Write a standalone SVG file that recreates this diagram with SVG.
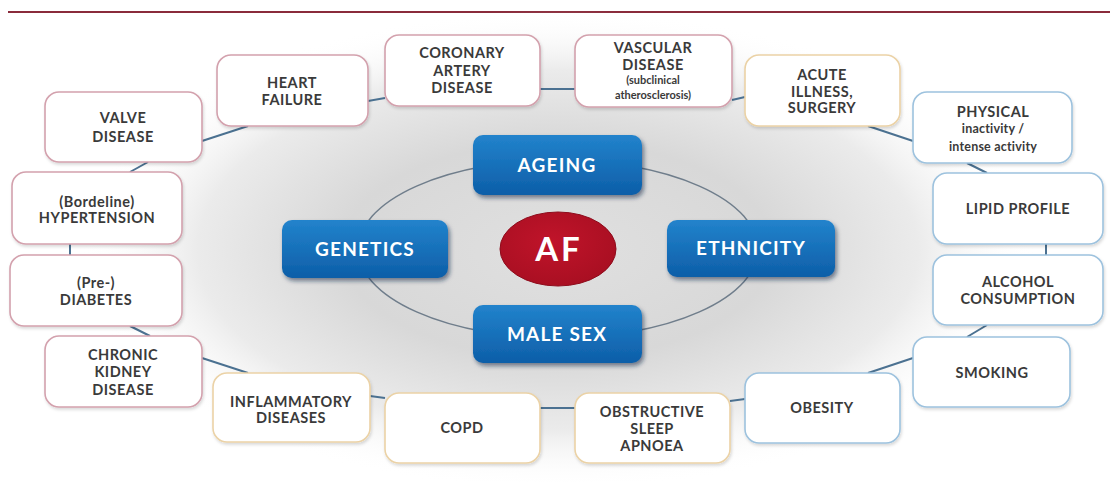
<svg xmlns="http://www.w3.org/2000/svg" width="1110" height="482" viewBox="0 0 1110 482">
<defs>
  <radialGradient id="bg" cx="0.5" cy="0.5" r="0.5">
    <stop offset="0" stop-color="#e0e0e0"/>
    <stop offset="0.45" stop-color="#d8d8d8"/>
    <stop offset="0.75" stop-color="#ebebeb"/>
    <stop offset="1" stop-color="#ffffff" stop-opacity="0"/>
  </radialGradient>
  <linearGradient id="blue" x1="0" y1="0" x2="0" y2="1">
    <stop offset="0" stop-color="#2283cc"/>
    <stop offset="1" stop-color="#0d5ea8"/>
  </linearGradient>
  <radialGradient id="red" cx="0.45" cy="0.4" r="0.6">
    <stop offset="0" stop-color="#c0142a"/>
    <stop offset="1" stop-color="#a90f22"/>
  </radialGradient>
  <filter id="sh" x="-10%" y="-10%" width="125%" height="130%">
    <feDropShadow dx="1" dy="2" stdDeviation="1.5" flood-color="#000" flood-opacity="0.15"/>
  </filter>
  <filter id="bsh" x="-10%" y="-15%" width="125%" height="140%">
    <feDropShadow dx="2" dy="3" stdDeviation="2" flood-color="#0a2a4a" flood-opacity="0.55"/>
  </filter>
</defs>
<style>
  .box { fill: #ffffff; stroke-width: 1.6; filter: url(#sh); }
  .pink { stroke: #d3a1ad; }
  .orange { stroke: #ebd2a6; }
  .bl { stroke: #9dc2de; }
  .t { font-family: Lato, "Open Sans", sans-serif; font-weight: 700; font-size: 14.5px; letter-spacing: 0.5px; fill: #3a3a3a; text-anchor: middle; }
  .s { font-size: 11px; letter-spacing: 0; }
  .m { font-size: 12.5px; letter-spacing: 0.2px; }
  .core { fill: url(#blue); filter: url(#bsh); }
  .ct { font-family: Lato, "Open Sans", sans-serif; font-weight: 700; font-size: 19px; letter-spacing: 1.2px; fill: #ffffff; text-anchor: middle; }
  .ln { stroke: #4b7191; stroke-width: 2; fill: none; }
</style>
<rect x="0" y="0" width="1110" height="482" fill="#ffffff"/>
<line x1="8" y1="12" x2="1110" y2="12" stroke="#8a2b3b" stroke-width="2"/>
<ellipse cx="558" cy="250" rx="480" ry="240" fill="url(#bg)"/>

<g id="connectors">
  <line class="ln" x1="202" y1="141" x2="248" y2="126"/>
  <line class="ln" x1="148" y1="162" x2="130" y2="172"/>
  <line class="ln" x1="70" y1="244" x2="70" y2="255"/>
  <line class="ln" x1="130" y1="326" x2="150" y2="336"/>
  <line class="ln" x1="202" y1="358" x2="248" y2="373"/>
  <line class="ln" x1="370" y1="396" x2="385" y2="398"/>
  <line class="ln" x1="540" y1="408" x2="575" y2="408"/>
  <line class="ln" x1="730" y1="401" x2="745" y2="399"/>
  <line class="ln" x1="868" y1="373" x2="913" y2="358"/>
  <line class="ln" x1="967" y1="337" x2="987" y2="325"/>
  <line class="ln" x1="1046" y1="244" x2="1046" y2="255"/>
  <line class="ln" x1="967" y1="163" x2="987" y2="173"/>
  <line class="ln" x1="868" y1="126" x2="913" y2="141"/>
  <line class="ln" x1="732" y1="100" x2="745" y2="97"/>
  <line class="ln" x1="540" y1="89" x2="575" y2="89"/>
  <line class="ln" x1="368" y1="101" x2="385" y2="98"/>
  <ellipse cx="558" cy="249" rx="200" ry="89" fill="none" stroke="#6f7d8b" stroke-width="1.5"/>
</g>

<g id="heart-failure">
  <rect class="box pink" x="217" y="55" width="151" height="71" rx="14"/>
  <text class="t" x="292" y="88">HEART</text>
  <text class="t" x="292" y="105">FAILURE</text>
</g>
<g id="coronary-artery-disease">
  <rect class="box pink" x="385" y="35" width="155" height="71" rx="14"/>
  <text class="t" x="462" y="58">CORONARY</text>
  <text class="t" x="462" y="76">ARTERY</text>
  <text class="t" x="462" y="93">DISEASE</text>
</g>
<g id="vascular-disease">
  <rect class="box pink" x="575" y="35" width="157" height="72" rx="14"/>
  <text class="t" x="653" y="53">VASCULAR</text>
  <text class="t" x="653" y="70">DISEASE</text>
  <text class="t s" x="653" y="84">(subclinical</text>
  <text class="t s" x="653" y="99">atherosclerosis)</text>
</g>
<g id="acute-illness">
  <rect class="box orange" x="745" y="55" width="155" height="71" rx="14"/>
  <text class="t" x="822" y="80">ACUTE</text>
  <text class="t" x="822" y="97">ILLNESS,</text>
  <text class="t" x="822" y="113">SURGERY</text>
</g>
<g id="physical-activity">
  <rect class="box bl" x="913" y="92" width="159" height="71" rx="14"/>
  <text class="t" x="993" y="117">PHYSICAL</text>
  <text class="t m" x="993" y="133">inactivity /</text>
  <text class="t m" x="993" y="151">intense activity</text>
</g>
<g id="lipid-profile">
  <rect class="box bl" x="933" y="173" width="170" height="71" rx="14"/>
  <text class="t" x="1018" y="214">LIPID PROFILE</text>
</g>
<g id="alcohol-consumption">
  <rect class="box bl" x="933" y="255" width="170" height="70" rx="14"/>
  <text class="t" x="1018" y="287">ALCOHOL</text>
  <text class="t" x="1018" y="304">CONSUMPTION</text>
</g>
<g id="smoking">
  <rect class="box bl" x="913" y="337" width="157" height="70" rx="14"/>
  <text class="t" x="992" y="378">SMOKING</text>
</g>
<g id="obesity">
  <rect class="box bl" x="745" y="373" width="155" height="70" rx="14"/>
  <text class="t" x="822" y="413">OBESITY</text>
</g>
<g id="obstructive-sleep-apnoea">
  <rect class="box orange" x="575" y="393" width="155" height="70" rx="14"/>
  <text class="t" x="652" y="417">OBSTRUCTIVE</text>
  <text class="t" x="652" y="434">SLEEP</text>
  <text class="t" x="652" y="451">APNOEA</text>
</g>
<g id="copd">
  <rect class="box orange" x="385" y="393" width="155" height="70" rx="14"/>
  <text class="t" x="462" y="433">COPD</text>
</g>
<g id="inflammatory-diseases">
  <rect class="box orange" x="213" y="373" width="157" height="69" rx="14"/>
  <text class="t" x="291" y="407">INFLAMMATORY</text>
  <text class="t" x="291" y="423">DISEASES</text>
</g>
<g id="chronic-kidney-disease">
  <rect class="box pink" x="45" y="336" width="157" height="71" rx="14"/>
  <text class="t" x="123" y="360">CHRONIC</text>
  <text class="t" x="123" y="377">KIDNEY</text>
  <text class="t" x="123" y="395">DISEASE</text>
</g>
<g id="diabetes">
  <rect class="box pink" x="10" y="255" width="172" height="71" rx="14"/>
  <text class="t" x="96" y="288">(Pre-)</text>
  <text class="t" x="96" y="305">DIABETES</text>
</g>
<g id="hypertension">
  <rect class="box pink" x="12" y="172" width="170" height="72" rx="14"/>
  <text class="t" x="97" y="207">(Bordeline)</text>
  <text class="t" x="97" y="223">HYPERTENSION</text>
</g>
<g id="valve-disease">
  <rect class="box pink" x="45" y="92" width="157" height="70" rx="14"/>
  <text class="t" x="123" y="123">VALVE</text>
  <text class="t" x="123" y="142">DISEASE</text>
</g>

<g id="ageing">
  <rect class="core" x="473" y="135" width="169" height="60" rx="10"/>
  <text class="ct" x="557" y="172">AGEING</text>
</g>
<g id="genetics">
  <rect class="core" x="282" y="220" width="166" height="58" rx="10"/>
  <text class="ct" x="365" y="256">GENETICS</text>
</g>
<g id="ethnicity">
  <rect class="core" x="667" y="220" width="168" height="57" rx="10"/>
  <text class="ct" x="751" y="255">ETHNICITY</text>
</g>
<g id="male-sex">
  <rect class="core" x="473" y="305" width="169" height="58" rx="10"/>
  <text class="ct" x="557" y="341">MALE SEX</text>
</g>
<g id="af">
  <ellipse cx="558" cy="249" rx="58" ry="37" fill="url(#red)" stroke="#8e0c1c" stroke-width="1"/>
  <text x="559" y="261" font-family="Lato, 'Open Sans', sans-serif" font-weight="700" font-size="33" fill="#ffffff" text-anchor="middle" letter-spacing="3">AF</text>
</g>
</svg>
